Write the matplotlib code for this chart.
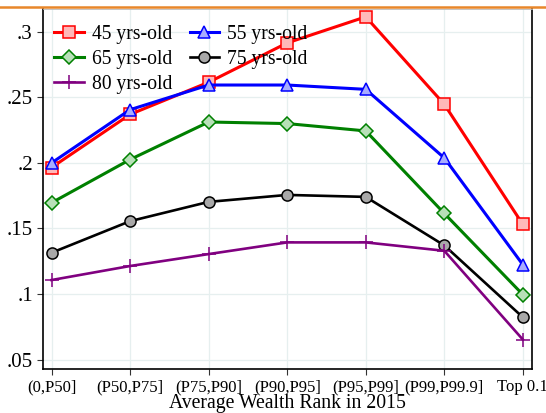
#!/usr/bin/env python3

"""
Wealth rank shares by age group
"""

import matplotlib
matplotlib.use("Agg")
import matplotlib.pyplot as plt
from matplotlib.lines import Line2D

plt.rcParams["font.family"] = ["Liberation Serif", "DejaVu Serif"]

ranks = ["(0,P50]", "(P50,P75]", "(P75,P90]", "(P90,P95]",
         "(P95,P99]", "(P99,P99.9]", "Top 0.1"]

age45 = [0.1965, 0.237, 0.2615, 0.2915, 0.3114, 0.2447, 0.1531]
age55 = [0.200, 0.2406, 0.2594, 0.2594, 0.2561, 0.2038, 0.1224]
age65 = [0.1696, 0.2026, 0.2312, 0.230, 0.2244, 0.1615, 0.0996]
age75 = [0.1315, 0.1556, 0.1703, 0.1756, 0.1741, 0.1371, 0.0823]
age80 = [0.1107, 0.1214, 0.1305, 0.1394, 0.1394, 0.133, 0.0653]

yticks = [0.05, 0.1, 0.15, 0.2, 0.25, 0.3]
ytick_labels = [".05", ".1", ".15", ".2", ".25", ".3"]

series = [
  ("45 yrs-old", age45, "#ff0000", "s", "#ffb8b8", 2.2),
  ("55 yrs-old", age55, "#0000ff", "^", "#a8acff", 2.2),
  ("65 yrs-old", age65, "#008000", "D", "#b8e0b8", 2.2),
  ("75 yrs-old", age75, "#000000", "o", "#a8a8a8", 1.9),
  ("80 yrs-old", age80, "#800080", "+", "#800080", 1.9),
]

fig = plt.figure(figsize=(5.46, 4.13), dpi=100)
ax = fig.add_axes([0.078, 0.106, 0.896, 0.872])

xs = list(range(len(ranks)))
lines = {}
for (label, ys, color, marker, face, lw) in series:
  msize = 10 if marker == "+" else 8
  if marker == "D":
    msize = 7
  line, = ax.plot(xs, ys, color=color, lw=lw, marker=marker,
                  markersize=msize, markerfacecolor=face,
                  markeredgecolor=color, markeredgewidth=1.1,
                  label=label, zorder=3)
  lines[label] = line

ax.set_xlim(-0.114, 6.114)
ax.set_ylim(0.0427, 0.3173)
ax.set_xticks(xs)
ax.set_xticklabels(ranks, fontsize=12)
ax.set_yticks(yticks)
ax.set_yticklabels(ytick_labels, fontsize=15)
ax.tick_params(axis="both", direction="out", length=4, width=0.8,
               color="#333333", pad=3)
ax.set_xlabel("Average Wealth Rank in 2015", fontsize=14.2, labelpad=-1)

ax.grid(True, color="#e6efef", lw=0.9, zorder=0)
ax.set_axisbelow(True)
for side in ["left", "bottom", "right"]:
  ax.spines[side].set_linewidth(1.2)
ax.spines["top"].set_color("#bbbbbb")
ax.spines["top"].set_linewidth(0.6)

order = ["45 yrs-old", "65 yrs-old", "80 yrs-old", "55 yrs-old", "75 yrs-old"]
ax.legend([lines[k] for k in order], order, loc="upper left",
          bbox_to_anchor=(-0.008, 1.0), ncol=2, frameon=False, fontsize=14.1,
          handlelength=1.5, handletextpad=0.4, columnspacing=0.9,
          labelspacing=0.3, borderaxespad=0.5, borderpad=0.3)

# orange rule across the top of the page
fig.add_artist(Line2D([0, 1], [0.984, 0.984], color="#e8872a", lw=1.8,
                      transform=fig.transFigure))

fig.savefig("out.png", dpi=100)
